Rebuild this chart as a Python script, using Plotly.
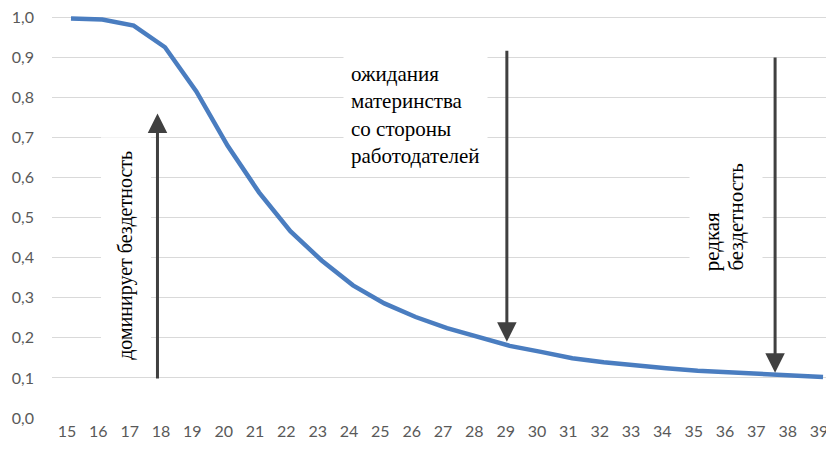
import plotly.graph_objects as go

ages = list(range(15, 40))
age_labels = [str(a) for a in ages]
share = [0.997, 0.994, 0.979, 0.925, 0.815, 0.679, 0.563, 0.466, 0.393, 0.331,
         0.286, 0.252, 0.224, 0.201, 0.180, 0.165, 0.149, 0.139, 0.131, 0.124,
         0.118, 0.114, 0.110, 0.106, 0.102]
y_ticks = [i / 10 for i in range(0, 11)]

SERIF = "Liberation Serif"
ARROW = "#404040"
TICKFONT = dict(family="Lato, Open Sans, sans-serif", size=16, color="#595959")

fig = go.Figure()
fig.add_trace(go.Scatter(
    x=ages, y=share, mode="lines",
    line=dict(color="#4A7DC0", width=4.5, shape="linear"),
    hoverinfo="skip", showlegend=False,
))

# annotation texts with white boxes
fig.add_annotation(
    x=16.76, y=0.405, xref="x", yref="y",
    text="доминирует бездетность", textangle=-90, showarrow=False,
    font=dict(family=SERIF, size=20, color="#000000"),
    bgcolor="white", borderpad=13,
)
fig.add_annotation(
    x=26.0, y=0.756, xref="x", yref="y",
    text="ожидания<br>материнства<br>со стороны<br>работодателей",
    align="left", showarrow=False,
    font=dict(family=SERIF, size=21, color="#000000"),
    bgcolor="white", borderpad=7,
)
# white backing box for the two-line rotated label
fig.add_annotation(
    x=35.89, y=0.506, xref="x", yref="y",
    text=" ", width=72, height=148, showarrow=False,
    bgcolor="white", borderpad=0,
)
fig.add_annotation(
    x=36.21, y=0.5016, xref="x", yref="y",
    text="бездетность", textangle=-90, showarrow=False,
    font=dict(family=SERIF, size=21, color="#000000"),
)
fig.add_annotation(
    x=35.44, y=0.4395, xref="x", yref="y",
    text="редкая", textangle=-90, showarrow=False,
    font=dict(family=SERIF, size=21, color="#000000"),
)

# arrows
arrows = [
    dict(x=17.76, y=0.76, ax=17.76, ay=0.095),
    dict(x=28.91, y=0.19, ax=28.91, ay=0.92),
    dict(x=37.47, y=0.113, ax=37.47, ay=0.903),
]
for a in arrows:
    fig.add_annotation(
        x=a["x"], y=a["y"], ax=a["ax"], ay=a["ay"],
        xref="x", yref="y", axref="x", ayref="y",
        text="", showarrow=True, arrowhead=2, arrowsize=1.3,
        arrowwidth=3, arrowcolor=ARROW, standoff=0,
    )

# page body has an 8px default margin, so the figure is offset by 8px
fig.update_layout(
    width=826, height=447,
    margin=dict(l=44, r=0, t=8, b=37, autoexpand=False),
    paper_bgcolor="white", plot_bgcolor="white",
    separators=", ",
    showlegend=False,
    xaxis=dict(
        range=[15 - 0.606, 39 + 0.35], automargin=False,
        tickmode="array", tickvals=ages, ticktext=age_labels,
        showgrid=False, zeroline=False, showline=False,
        ticks="", ticklabelshift=-4, ticklabelstandoff=2,
        tickfont=TICKFONT, ticklabeloverflow="allow",
    ),
    yaxis=dict(
        range=[0, 1.003], automargin=False,
        tickmode="array", tickvals=y_ticks, tickformat=".1f",
        showgrid=True, gridcolor="#D9D9D9", gridwidth=1.3,
        zeroline=False, showline=False, ticks="", ticklabelstandoff=17,
        tickfont=TICKFONT, ticklabeloverflow="allow",
    ),
)

fig.write_html("out.html")
